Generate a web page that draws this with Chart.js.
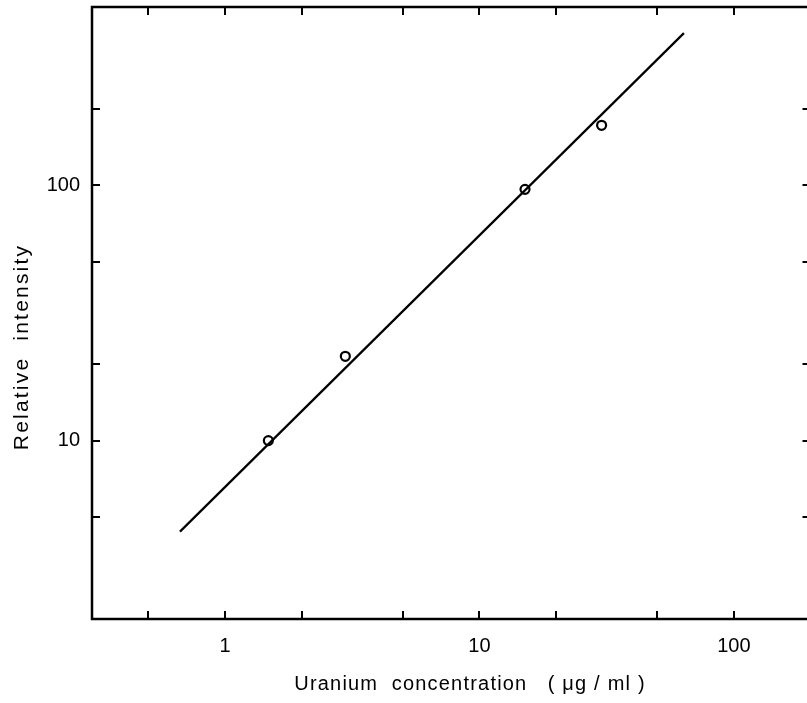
<!DOCTYPE html>
<html><head><meta charset="utf-8">
<script src="https://cdn.jsdelivr.net/npm/chart.js@4"></script>
<style>html,body{margin:0;padding:0;background:#fff;overflow:hidden;width:807px;height:703px}
#wrap{width:822px;height:703px;position:relative}
</style></head><body><div id="wrap"><canvas id="c" width="822" height="703"></canvas></div>
<script>
// measured points
const pointX = [1.48, 2.97, 15.1, 30.2];
const pointY = [10.0, 21.4, 96.5, 172];
// fitted line end points
const fitX = [0.665, 63.6];
const fitY = [4.4, 395];
// axes
const xTickValues = [0.5, 1, 2, 5, 10, 20, 50, 100, 200];
const xTickLabels = ['', '1', '', '', '10', '', '', '100', ''];
const yTickValues = [5, 10, 20, 50, 100, 200, 500];
const yTickLabels = ['', '10', '', '', '100', '', ''];
const xTitle = 'Uranium  concentration   ( μg / ml )';
const yTitle = 'Relative  intensity';
const FONT = 'Liberation Sans, Arial, sans-serif';

const framePlugin = {
  id: 'frame',
  afterDraw(chart) {
    const ctx = chart.ctx, a = chart.chartArea;
    const xs = chart.scales.x, ys = chart.scales.y;
    ctx.save();
    ctx.strokeStyle = '#000';
    ctx.lineWidth = 2.5;
    ctx.strokeRect(a.left, a.top, a.right - a.left, a.bottom - a.top);
    ctx.lineWidth = 2;
    const L = 8;
    ctx.beginPath();
    xTickValues.forEach(v => {
      const px = Math.round(xs.getPixelForValue(v));
      ctx.moveTo(px, a.bottom); ctx.lineTo(px, a.bottom - L);
      ctx.moveTo(px, a.top); ctx.lineTo(px, a.top + L);
    });
    yTickValues.forEach(v => {
      const py = Math.round(ys.getPixelForValue(v));
      ctx.moveTo(a.left, py); ctx.lineTo(a.left + L, py);
      ctx.moveTo(a.right, py); ctx.lineTo(a.right - L, py);
    });
    ctx.stroke();
    // axis titles
    ctx.fillStyle = '#000';
    ctx.font = '20px ' + FONT;
    ctx.letterSpacing = '1.2px';
    ctx.textAlign = 'center';
    ctx.textBaseline = 'middle';
    ctx.fillText(xTitle, 470, 684);
    ctx.font = '21px ' + FONT;
    ctx.letterSpacing = '2.2px';
    ctx.translate(22, 347);
    ctx.rotate(-Math.PI / 2);
    ctx.fillText(yTitle, 0, 0);
    ctx.restore();
  }
};

new Chart(document.getElementById('c'), {
  type: 'scatter',
  data: {
    datasets: [
      {
        data: fitX.map((x, i) => ({x, y: fitY[i]})),
        showLine: true, borderColor: '#000', borderWidth: 2.2, pointRadius: 0, fill: false
      },
      {
        data: pointX.map((x, i) => ({x, y: pointY[i]})),
        showLine: false, pointRadius: 4.5, pointBorderWidth: 2.2,
        pointBorderColor: '#000', pointBackgroundColor: '#fff', pointStyle: 'circle'
      }
    ]
  },
  options: {
    responsive: false, animation: false, devicePixelRatio: 1,
    layout: {padding: {top: 7, right: 11.5, left: 0, bottom: 0}},
    plugins: {legend: {display: false}, tooltip: {enabled: false}},
    scales: {
      x: {
        type: 'logarithmic', min: 0.3, max: 200, position: 'bottom',
        grid: {display: false, drawTicks: false},
        border: {display: false},
        afterBuildTicks: s => { s.ticks = xTickValues.map(v => ({value: v})); },
        afterFit: s => { s.height = 84; s.paddingLeft = 0; s.paddingRight = 0; },
        ticks: {
          autoSkip: false, maxRotation: 0, minRotation: 0, color: '#000', padding: 15,
          font: {family: FONT, size: 20},
          callback: (v, i) => xTickLabels[i]
        }
      },
      y: {
        type: 'logarithmic', min: 2, max: 500, position: 'left',
        grid: {display: false, drawTicks: false},
        border: {display: false},
        afterBuildTicks: s => { s.ticks = yTickValues.map(v => ({value: v})); },
        afterFit: s => { s.width = 92; s.paddingTop = 0; s.paddingBottom = 0; },
        ticks: {
          autoSkip: false, color: '#000', padding: 12,
          font: {family: FONT, size: 20},
          callback: (v, i) => yTickLabels[i]
        }
      }
    }
  },
  plugins: [framePlugin]
});
</script></body></html>
